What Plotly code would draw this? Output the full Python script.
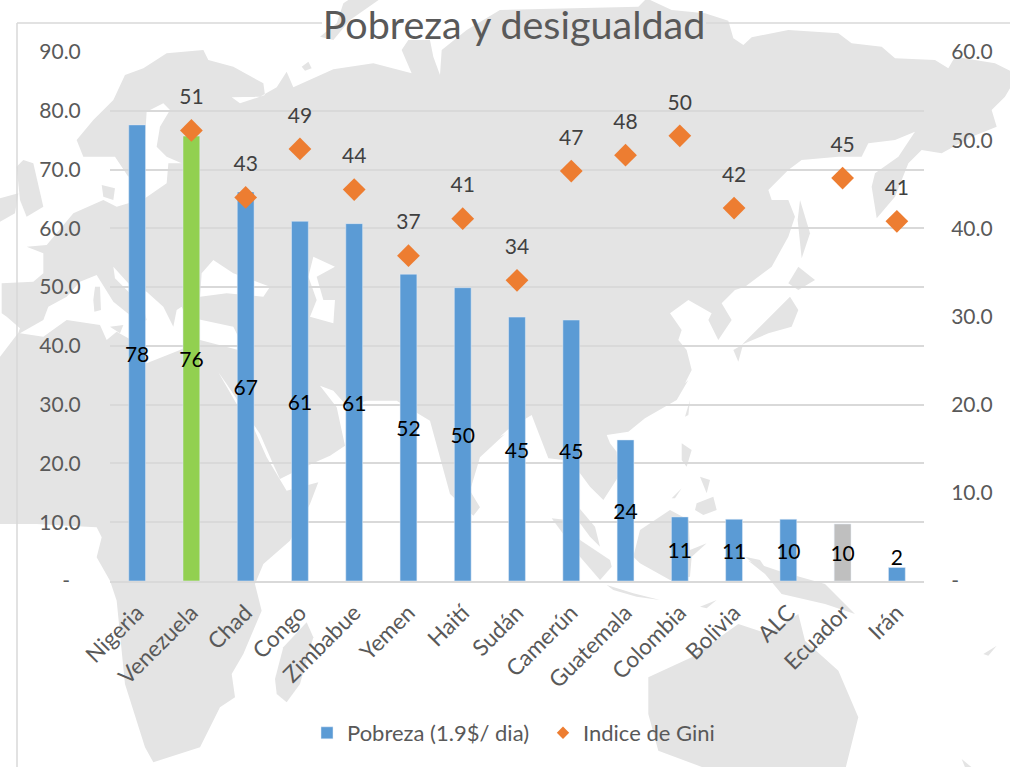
import plotly.graph_objects as go

W, H = 1010, 767
L, R, T, B = 110, 924, 52, 581

paises = ["Nigeria", "Venezuela", "Chad", "Congo", "Zimbabue", "Yemen", "Haití", "Sudán",
          "Camerún", "Guatemala", "Colombia", "Bolivia", "ALC", "Ecuador", "Irán"]
pobreza = [77.6, 75.7, 66.2, 61.2, 60.8, 52.2, 49.9, 44.9, 44.4, 24.0, 10.9, 10.5, 10.5, 9.7, 2.3]
pobreza_txt = ["78", "76", "67", "61", "61", "52", "50", "45", "45", "24", "11", "11", "10", "10", "2"]
colores = ["#5B9BD5", "#92D050"] + ["#5B9BD5"] * 11 + ["#BFBFBF", "#5B9BD5"]
gini = [None, 51.1, 43.5, 49.0, 44.4, 36.9, 41.1, 34.1, 46.5, 48.3, 50.5, 42.3, None, 45.7, 40.8]
gini_txt = ["", "51", "43", "49", "44", "37", "41", "34", "47", "48", "50", "42", "", "45", "41"]
ticks_izq = [0, 10, 20, 30, 40, 50, 60, 70, 80, 90]
ticks_izq_txt = ["-\u00a0\u00a0", "10.0", "20.0", "30.0", "40.0", "50.0", "60.0", "70.0", "80.0", "90.0"]
ticks_der = [0, 10, 20, 30, 40, 50, 60]
ticks_der_txt = ["-", "10.0", "20.0", "30.0", "40.0", "50.0", "60.0"]

FONT = "Lato"
GRID = "#D9D9D9"
TXT = "#595959"
LAND = "#E4E4E4"

# Background world map: decorative outline, given as offsets in 3x reference panels
P1, P2, P3, P4 = (0, 0), (505, 0), (0, 384), (505, 384)
PA, PB = (0, 150), (500, 380)
def seg(p, pts):
    return [(p[0] + x / 3, p[1] + y / 3) for x, y in pts]

eurasia = (
    seg(P3, [(0, 420), (-60, 420)]) +
    seg(PA, [(-60, 680), (0, 620), (55, 548), (60, 535), (20, 500), (5, 490), (5, 400), (100, 395), (130, 370),
             (130, 310), (80, 290), (140, 285), (220, 190), (310, 150), (350, 170), (435, 145), (500, 100),
             (505, 40)]) +
    seg(P1, [(545, 490), (500, 470), (470, 440), (480, 380), (510, 330), (490, 310),
             (440, 335), (430, 500), (385, 530), (345, 470), (250, 470), (230, 420), (280, 360), (340, 300),
             (375, 225), (430, 205), (500, 160), (610, 150), (625, 180), (700, 200), (790, 250), (795, 285),
             (720, 310), (695, 292), (780, 290), (830, 262), (860, 215), (880, 262), (1000, 208), (1120, 190),
             (1235, 220), (1205, 150), (1225, 120), (1290, 120), (1300, 170), (1320, 225), (1325, 150),
             (1400, 90), (1500, 30)]) +
    seg(P2, [(400, 20), (425, -5), (500, 30), (600, 40), (670, 62), (685, 115), (715, 135), (740, 112),
             (850, 90), (1000, 100), (1040, 130), (1130, 140), (1170, 175), (1290, 180), (1330, 205),
             (1350, 170), (1470, 190), (1530, 220), (1530, 240), (1500, 290), (1460, 330), (1475, 380),
             (1400, 410), (1310, 460), (1250, 450), (1210, 490), (1170, 590), (1115, 655), (1100, 560),
             (1110, 520), (1180, 470), (1230, 395), (1170, 420), (1090, 430), (1070, 470), (1000, 470),
             (890, 480), (850, 510), (790, 570), (800, 600), (850, 600), (870, 650), (850, 710), (800, 800),
             (720, 860), (690, 870), (650, 910), (680, 960), (640, 1020), (610, 960), (620, 940), (550, 900),
             (495, 940), (530, 990), (520, 1020), (545, 1050), (560, 1110), (540, 1150)]) +
    seg(PB, [(565, 0), (530, 60), (435, 115), (385, 155), (320, 165), (330, 190), (350, 215), (355, 290),
             (310, 360), (270, 320), (240, 280), (190, 240), (145, 235), (120, 170), (95, 105), (22, 150),
             (0, 170)]) +
    seg(P3, [(1515, 150), (1440, 220), (1410, 320), (1440, 370), (1420, 395), (1350, 330), (1290, 110),
             (1190, 50), (1100, 50), (1040, 65), (1000, 20), (960, 5), (1010, 70), (1035, 185), (990, 215),
             (900, 255), (840, 285), (815, 230), (780, 150), (680, 0), (655, -35), (710, 60), (760, 130),
             (800, 220), (860, 320), (955, 295), (930, 360), (870, 470), (790, 540), (765, 600), (785, 680),
             (730, 810), (695, 870), (705, 940), (660, 970), (600, 1090), (460, 1135), (435, 1090), (375, 900),
             (350, 650), (330, 590), (290, 520), (305, 460), (290, 430), (200, 425), (110, 420), (60, 420)])
)
tierra = [
    eurasia,
    seg(P1, [(960, 110), (1010, 70), (1030, 10), (1060, -10), (1150, -10), (1050, 60), (1000, 120)]),
    seg(P1, [(50, 500), (70, 480), (100, 490), (130, 620), (80, 650), (60, 600)]),
    seg(PA, [(0, 145), (55, 130), (45, 190), (0, 215)]),
    seg(PA, [(305, 105), (345, 115), (340, 150), (310, 140)]),
    seg(P1, [(905, 200), (925, 185), (935, 205), (915, 212)]),
    seg(P2, [(855, 890), (880, 930), (860, 980), (790, 1000), (720, 1030), (685, 1050), (700, 1085), (715, 1030)]),
    seg(P2, [(850, 850), (880, 800), (930, 840), (880, 870)]),
    seg(P2, [(885, 600), (915, 700), (890, 775), (878, 660)]),
    seg(P3, [(920, 715), (940, 760), (900, 900), (860, 955), (830, 930), (825, 885), (850, 790)]),
    seg(PB, [(238, 385), (285, 440), (300, 500), (270, 470), (240, 430)]),
    seg(PB, [(155, 415), (200, 420), (240, 480), (330, 540), (335, 560), (300, 600), (240, 530)]),
    seg(PB, [(400, 530), (420, 450), (510, 390), (566, 420), (570, 510), (620, 490), (575, 530), (570, 590),
             (510, 600), (420, 550)]),
    seg(PB, [(320, 615), (400, 640), (480, 660), (410, 650), (340, 630)]),
    seg(PB, [(600, 680), (650, 660), (620, 685)]),
    seg(PB, [(545, 190), (575, 210), (560, 260), (545, 240)]),
    seg(PB, [(590, 370), (640, 350), (650, 390), (610, 405), (585, 390)]),
    seg(PB, [(600, 290), (630, 300), (620, 340)]),
    seg(PB, [(515, 355), (545, 325), (525, 355)]),
    seg(PB, [(555, 110), (570, 60), (565, 105)]),
    seg(PB, [(735, 530), (780, 540), (800, 570), (760, 550)]),
    seg(P4, [(730, 530), (820, 560), (960, 600), (1050, 690), (960, 660), (830, 630), (780, 570)]),
    seg(P4, [(430, 880), (560, 820), (700, 720), (790, 750), (880, 690), (900, 770), (1000, 860), (1060, 1000),
             (1020, 1160), (620, 1160), (460, 1100), (430, 990)]),
    seg(P4, [(1435, 810), (1475, 785), (1450, 815)]),
    seg(P4, [(1370, 1125), (1400, 1150), (1380, 1150)]),
]
mares = [
    seg(PA, [(145, 470), (200, 440), (240, 395), (290, 375), (340, 455), (420, 520), (440, 510), (430, 470),
             (345, 385), (340, 350), (385, 400), (440, 425), (490, 470), (520, 530), (530, 480), (545, 470),
             (560, 500), (700, 530), (715, 560), (715, 600), (600, 570), (540, 600), (440, 640), (430, 590),
             (350, 545), (320, 570), (300, 525), (200, 510), (130, 560), (60, 550), (130, 510)]),
    seg(PA, [(605, 370), (640, 330), (700, 370), (810, 410), (790, 440), (680, 430), (600, 440)]),
    seg(PA, [(940, 320), (1005, 350), (950, 380), (970, 450), (1005, 450), (1000, 520), (930, 500), (950, 450),
             (925, 380)]),
]
islas_med = [
    seg(PA, [(285, 410), (300, 410), (303, 480), (283, 485), (280, 450)]),
    seg(PA, [(330, 530), (370, 525), (360, 550)]),
]

def path(pts):
    xs = [(x - L) / (R - L) for x, _ in pts]
    ys = [(B - y) / (B - T) for _, y in pts]
    return "M" + " L".join(f"{a:.4f},{b:.4f}" for a, b in zip(xs, ys)) + " Z"

formas = []
for grupo, color in ((tierra, LAND), (mares, "white"), (islas_med, LAND)):
    for pts in grupo:
        formas.append(dict(type="path", xref="paper", yref="paper", path=path(pts),
                           fillcolor=color, line=dict(width=0), layer="below"))

def borde(x0, y0, x1, y1):
    return dict(type="line", xref="paper", yref="paper", layer="below",
                x0=(x0 - L) / (R - L), x1=(x1 - L) / (R - L),
                y0=(B - y0) / (B - T), y1=(B - y1) / (B - T),
                line=dict(color=GRID, width=1.5))
formas += [borde(17, 23, 17, 767), borde(17, 23, 322, 23), borde(706, 23, 1010, 23)]

fig = go.Figure()
fig.add_trace(go.Bar(x=paises, y=pobreza, name="Pobreza (1.9$/ dia)", marker_color=colores,
                     width=0.31, yaxis="y"))
fig.add_trace(go.Scatter(x=paises, y=gini, name="Indice de Gini", mode="markers", yaxis="y2", showlegend=False,
                         marker=dict(symbol="diamond", size=17.5, color="#ED7D31")))
fig.add_trace(go.Scatter(x=[None], y=[None], name="Indice de Gini", mode="markers", yaxis="y2",
                         marker=dict(symbol="diamond", size=9.5, color="#ED7D31")))
fig.add_trace(go.Scatter(x=paises, y=[max(v / 2 - 0.6, 3.7) for v in pobreza], text=pobreza_txt, mode="text",
                         textposition="middle center", showlegend=False, yaxis="y",
                         textfont=dict(family=FONT, size=21, color="black")))
fig.add_trace(go.Scatter(x=paises, y=gini, text=gini_txt, mode="markers+text", yaxis="y2",
                         textposition="top center", showlegend=False,
                         marker=dict(size=32, opacity=0),
                         textfont=dict(family=FONT, size=21, color="#404040")))

fig.update_layout(
    width=W, height=H, autosize=False,
    margin=dict(l=L, r=W - R, t=T, b=H - B),
    paper_bgcolor="rgba(0,0,0,0)", plot_bgcolor="rgba(0,0,0,0)",
    font=dict(family=FONT, color=TXT),
    shapes=formas, showlegend=True, hovermode=False,
    title=dict(text="Pobreza y desigualdad", x=514 / W, y=1 - 25 / H, xanchor="center", yanchor="middle",
               xref="container", yref="container", font=dict(family=FONT, size=39.5, color=TXT)),
    legend=dict(orientation="h", x=307 / W, xref="container", y=1 - 733 / H, yref="container",
                xanchor="left", yanchor="middle", font=dict(family=FONT, size=22, color=TXT),
                bgcolor="rgba(0,0,0,0)", entrywidth=191, entrywidthmode="pixels", itemwidth=30),
    bargap=0.69,
    xaxis=dict(type="category", categoryorder="array", categoryarray=paises, tickangle=-45,
               tickfont=dict(family=FONT, size=22.5, color=TXT), showline=True, linecolor=GRID, linewidth=1.5,
               ticks="outside", ticklen=8, tickcolor="rgba(0,0,0,0)", showgrid=False, zeroline=False,
               range=[-0.5, 14.5]),
    yaxis=dict(range=[0, 90], tickvals=ticks_izq, ticktext=ticks_izq_txt, showgrid=True, gridcolor=GRID,
               gridwidth=1.5, zeroline=False, ticks="outside", ticklen=24, tickcolor="rgba(0,0,0,0)",
               tickfont=dict(family=FONT, size=21, color=TXT)),
    yaxis2=dict(range=[0, 60], overlaying="y", side="right", tickvals=ticks_der, ticktext=ticks_der_txt,
                showgrid=False, zeroline=False, ticks="outside", ticklen=22, tickcolor="rgba(0,0,0,0)",
                tickfont=dict(family=FONT, size=21, color=TXT)),
)

fig.write_html("out.html", config={"displayModeBar": False},
               post_script="document.body.style.margin='0';document.body.style.overflow='hidden';")
